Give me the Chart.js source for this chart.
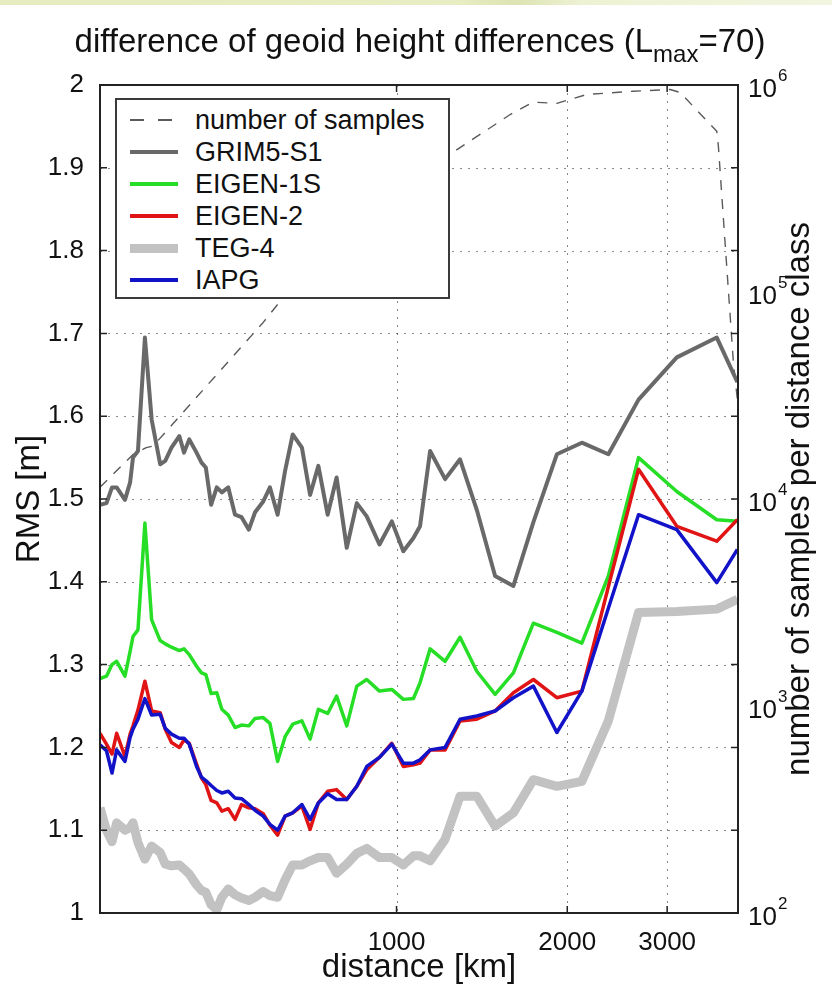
<!DOCTYPE html>
<html>
<head>
<meta charset="utf-8">
<script src="https://cdn.jsdelivr.net/npm/chart.js@4.4.1/dist/chart.umd.min.js"></script>
<style>
  html, body { margin: 0; padding: 0; background: #fff; }
  #wrap { position: relative; width: 832px; height: 991px; overflow: hidden;
          font-family: "Liberation Sans", Arial, Helvetica, sans-serif; color: #111; }
  #band { position: absolute; left: 0; top: 0; width: 832px; height: 5px;
          background: linear-gradient(to right, #e6ecbf 0%, #e8edc3 55%, #dde3b2 62%, #eef2d4 70%, #f2f5df 100%); }
  #title { position: absolute; left: 0; width: 840px; top: 24px; text-align: center;
           font-size: 33px; line-height: 33px; white-space: nowrap; }
  #title .sub { font-size: 24px; position: relative; top: 10px; }
  #chart { position: absolute; left: 0; top: 0; }
  #legend { position: absolute; left: 115px; top: 98px; width: 335px; height: 201px;
            box-sizing: border-box; border: 2px solid #3a3a3a; background: #fff; }
  #legend .row { position: absolute; left: 0; width: 100%; height: 32px; }
  #legend .swatch { position: absolute; }
  #legend .txt { position: absolute; left: 78px; top: 0; font-size: 27px; line-height: 32px; white-space: nowrap; }
</style>
</head>
<body>
<div id="wrap">
  <div id="band"></div>
  <canvas id="chart" width="832" height="991"></canvas>
  <div id="title">difference of geoid height differences (L<span class="sub">max</span>=70)</div>
  <div id="legend"></div>
</div>
<script>
// distance classes [km] shared by the RMS curves
const distanceKm = [300, 308, 315, 321, 332, 339, 343, 350, 360, 370,
                    383, 391, 401, 414, 422, 431, 444, 453, 461, 471,
                    482, 492, 505, 519, 533, 549, 563, 582, 598, 617,
                    636, 656, 681, 704, 728, 756, 784, 817, 851, 886,
                    933, 981, 1028, 1071, 1100, 1146, 1218, 1294, 1385, 1492,
                    1607, 1743, 1917, 2122, 2363, 2671, 3120, 3670, 3990];

const grimRms = [1.493, 1.495, 1.514, 1.514, 1.499, 1.520, 1.550, 1.558, 1.695, 1.596,
                 1.542, 1.546, 1.562, 1.576, 1.556, 1.572, 1.556, 1.544, 1.538, 1.493,
                 1.514, 1.508, 1.514, 1.481, 1.478, 1.463, 1.484, 1.497, 1.514, 1.481,
                 1.534, 1.578, 1.562, 1.505, 1.540, 1.481, 1.526, 1.441, 1.495, 1.479,
                 1.445, 1.473, 1.437, 1.453, 1.467, 1.558, 1.524, 1.548, 1.487, 1.407,
                 1.395, 1.472, 1.554, 1.568, 1.554, 1.620, 1.671, 1.695, 1.641];

const eigen1sRms = [1.283, 1.286, 1.300, 1.304, 1.286, 1.316, 1.334, 1.342, 1.471, 1.354,
                    1.329, 1.325, 1.321, 1.317, 1.319, 1.312, 1.298, 1.290, 1.288, 1.265,
                    1.266, 1.246, 1.239, 1.224, 1.227, 1.226, 1.235, 1.236, 1.229, 1.183,
                    1.213, 1.228, 1.232, 1.210, 1.246, 1.241, 1.262, 1.226, 1.274, 1.282,
                    1.268, 1.270, 1.258, 1.259, 1.278, 1.319, 1.304, 1.333, 1.292, 1.264,
                    1.290, 1.350, 1.339, 1.326, 1.407, 1.550, 1.509, 1.475, 1.473];

const eigen2Rms = [1.217, 1.204, 1.192, 1.217, 1.189, 1.216, 1.226, 1.245, 1.280, 1.244,
                   1.242, 1.222, 1.206, 1.200, 1.209, 1.205, 1.180, 1.163, 1.155, 1.136,
                   1.133, 1.123, 1.126, 1.113, 1.131, 1.127, 1.126, 1.120, 1.106, 1.094,
                   1.117, 1.121, 1.129, 1.101, 1.133, 1.147, 1.149, 1.137, 1.153, 1.173,
                   1.188, 1.205, 1.177, 1.179, 1.181, 1.197, 1.197, 1.232, 1.234, 1.244,
                   1.266, 1.282, 1.260, 1.268, 1.394, 1.536, 1.467, 1.449, 1.475];

const teg4Rms = [1.127, 1.100, 1.086, 1.109, 1.100, 1.103, 1.109, 1.085, 1.065, 1.081,
                 1.073, 1.059, 1.057, 1.058, 1.053, 1.047, 1.034, 1.027, 1.025, 1.010,
                 1.004, 1.019, 1.029, 1.022, 1.018, 1.015, 1.019, 1.026, 1.021, 1.019,
                 1.040, 1.058, 1.058, 1.063, 1.067, 1.067, 1.048, 1.059, 1.072, 1.078,
                 1.067, 1.067, 1.058, 1.069, 1.069, 1.063, 1.089, 1.141, 1.141, 1.105,
                 1.121, 1.161, 1.153, 1.159, 1.232, 1.363, 1.364, 1.367, 1.379];

const iapgRms = [1.203, 1.196, 1.169, 1.197, 1.183, 1.212, 1.222, 1.234, 1.259, 1.239,
                 1.240, 1.223, 1.216, 1.211, 1.211, 1.204, 1.177, 1.164, 1.160, 1.154,
                 1.148, 1.145, 1.147, 1.139, 1.138, 1.131, 1.124, 1.117, 1.107, 1.100,
                 1.117, 1.121, 1.131, 1.113, 1.133, 1.144, 1.137, 1.137, 1.153, 1.177,
                 1.188, 1.204, 1.181, 1.181, 1.185, 1.197, 1.200, 1.234, 1.238, 1.244,
                 1.260, 1.274, 1.218, 1.268, 1.368, 1.481, 1.463, 1.399, 1.439];

// number of samples per distance class (right axis)
const sampleKm = [300, 343, 362, 372, 582, 623, 795, 1014, 1294, 1586,
                  1741, 1917, 2165, 2613, 3036, 3162, 3670, 3694, 3926, 3990];
const sampleCount = [11400, 16400, 17700, 18000, 71300, 90000, 180000, 320000, 498000, 720000,
                     826000, 815000, 900000, 933000, 951000, 920000, 598000, 505000, 45600, 30200];

const xTickValues = [1000, 2000, 3000];
const sampleTickExp = [2, 3, 4, 5, 6];

const FONT = '"Liberation Sans", Arial, Helvetica, sans-serif';

function pts(xs, ys) {
    return xs.map((x, i) => ({ x: x, y: ys[i] }));
}

const datasets = [
    { label: 'number of samples', data: pts(sampleKm, sampleCount), yAxisID: 'y2',
      borderColor: '#5a5a5a', borderWidth: 1.4, borderDash: [10, 9], order: 6 },
    { label: 'GRIM5-S1', data: pts(distanceKm, grimRms), borderColor: '#696969', borderWidth: 4, order: 4 },
    { label: 'EIGEN-1S', data: pts(distanceKm, eigen1sRms), borderColor: '#26de26', borderWidth: 3.5, order: 3 },
    { label: 'EIGEN-2', data: pts(distanceKm, eigen2Rms), borderColor: '#e01414', borderWidth: 3.5, order: 2 },
    { label: 'TEG-4', data: pts(distanceKm, teg4Rms), borderColor: '#c2c2c2', borderWidth: 9, order: 5 },
    { label: 'IAPG', data: pts(distanceKm, iapgRms), borderColor: '#1212c8', borderWidth: 3.5, order: 1 }
];
datasets.forEach(ds => {
    ds.pointRadius = 0;
    ds.tension = 0;
    ds.fill = false;
    ds.borderJoinStyle = 'round';
    if (!ds.yAxisID) ds.yAxisID = 'y';
});

// dotted grid, box, inward ticks, right axis labels
const matlabFrame = {
    id: 'matlabFrame',
    beforeDatasetsDraw(chart) {
        const { ctx, chartArea: a, scales } = chart;
        ctx.save();
        ctx.strokeStyle = 'rgba(40,40,40,0.55)';
        ctx.lineWidth = 1;
        ctx.setLineDash([2, 6]);
        scales.y.ticks.forEach(t => {
            if (t.value <= 1.001 || t.value >= 1.999) return;
            const py = Math.round(scales.y.getPixelForValue(t.value)) + 0.5;
            ctx.beginPath(); ctx.moveTo(a.left, py); ctx.lineTo(a.right, py); ctx.stroke();
        });
        xTickValues.forEach(v => {
            const px = Math.round(scales.x.getPixelForValue(v)) + 0.5;
            ctx.beginPath(); ctx.moveTo(px, a.top); ctx.lineTo(px, a.bottom); ctx.stroke();
        });
        ctx.restore();
    },
    afterDraw(chart) {
        const { ctx, chartArea: a, scales } = chart;
        ctx.save();
        ctx.setLineDash([]);
        ctx.strokeStyle = '#222';
        ctx.lineWidth = 2;
        ctx.strokeRect(a.left, a.top, a.right - a.left, a.bottom - a.top);

        ctx.lineWidth = 1.5;
        ctx.beginPath();
        scales.y.ticks.forEach(t => {
            const py = scales.y.getPixelForValue(t.value);
            ctx.moveTo(a.left, py); ctx.lineTo(a.left + 7, py);
            ctx.moveTo(a.right, py); ctx.lineTo(a.right - 7, py);
        });
        xTickValues.forEach(v => {
            const px = scales.x.getPixelForValue(v);
            ctx.moveTo(px, a.bottom); ctx.lineTo(px, a.bottom - 7);
            ctx.moveTo(px, a.top); ctx.lineTo(px, a.top + 7);
        });
        ctx.stroke();

        // right axis: 10^n labels
        ctx.fillStyle = '#111';
        ctx.textAlign = 'left';
        ctx.textBaseline = 'middle';
        sampleTickExp.forEach(e => {
            const py = scales.y2.getPixelForValue(Math.pow(10, e));
            ctx.font = '26px ' + FONT;
            ctx.fillText('10', 748, py + 5);
            const w = ctx.measureText('10').width;
            ctx.font = '17px ' + FONT;
            ctx.fillText(String(e), 748 + w + 1, py - 9);
        });

        // right axis title, reading upwards
        ctx.font = '33px ' + FONT;
        ctx.textAlign = 'center';
        ctx.translate(800, (a.top + a.bottom) / 2);
        ctx.rotate(-Math.PI / 2);
        ctx.fillText('number of samples per distance class', 0, 0);
        ctx.restore();
    }
};

Chart.defaults.font.family = FONT;
Chart.defaults.color = '#111';

new Chart(document.getElementById('chart'), {
    type: 'line',
    data: { datasets: datasets },
    options: {
        responsive: false,
        animation: false,
        devicePixelRatio: 1,
        layout: { padding: { top: 85, left: 0, right: 0, bottom: 0 } },
        plugins: { legend: { display: false }, tooltip: { enabled: false } },
        scales: {
            x: {
                type: 'logarithmic',
                min: 300,
                max: 4000,
                afterBuildTicks: s => { s.ticks = xTickValues.map(v => ({ value: v })); },
                afterFit: s => { s.height = 78; },
                ticks: { font: { size: 26 }, padding: 6, maxRotation: 0, autoSkip: false,
                         callback: v => String(v) },
                grid: { display: false },
                border: { display: false },
                title: { display: true, text: 'distance [km]', font: { size: 33 },
                         padding: { top: 0, bottom: 3 } }
            },
            y: {
                type: 'linear',
                position: 'left',
                min: 1,
                max: 2,
                afterFit: s => { s.width = 100; },
                ticks: { stepSize: 0.1, font: { size: 26 }, padding: 8,
                         callback: v => String(Math.round(v * 10) / 10) },
                grid: { display: false },
                border: { display: false },
                title: { display: true, text: 'RMS [m]', font: { size: 33 },
                         padding: { top: 10, bottom: 0 } }
            },
            y2: {
                type: 'logarithmic',
                position: 'right',
                min: 100,
                max: 1000000,
                afterFit: s => { s.width = 94; },
                ticks: { display: false },
                grid: { display: false },
                border: { display: false }
            }
        }
    },
    plugins: [matlabFrame]
});

// legend box built from the datasets
const legendBox = document.getElementById('legend');
datasets.forEach((ds, i) => {
    const row = document.createElement('div');
    row.className = 'row';
    row.style.top = (4 + 32 * i) + 'px';
    const lw = ds.borderWidth;
    if (ds.borderDash) {
        [13, 41].forEach(left => {
            const d = document.createElement('div');
            d.className = 'swatch';
            d.style.left = left + 'px';
            d.style.width = '14px';
            d.style.height = '1.5px';
            d.style.top = (16 - 0.75) + 'px';
            d.style.background = ds.borderColor;
            row.appendChild(d);
        });
    } else {
        const s = document.createElement('div');
        s.className = 'swatch';
        s.style.left = '13px';
        s.style.width = '48px';
        s.style.height = lw + 'px';
        s.style.top = (16 - lw / 2) + 'px';
        s.style.background = ds.borderColor;
        row.appendChild(s);
    }
    const t = document.createElement('div');
    t.className = 'txt';
    t.textContent = ds.label;
    row.appendChild(t);
    legendBox.appendChild(row);
});
</script>
</body>
</html>
